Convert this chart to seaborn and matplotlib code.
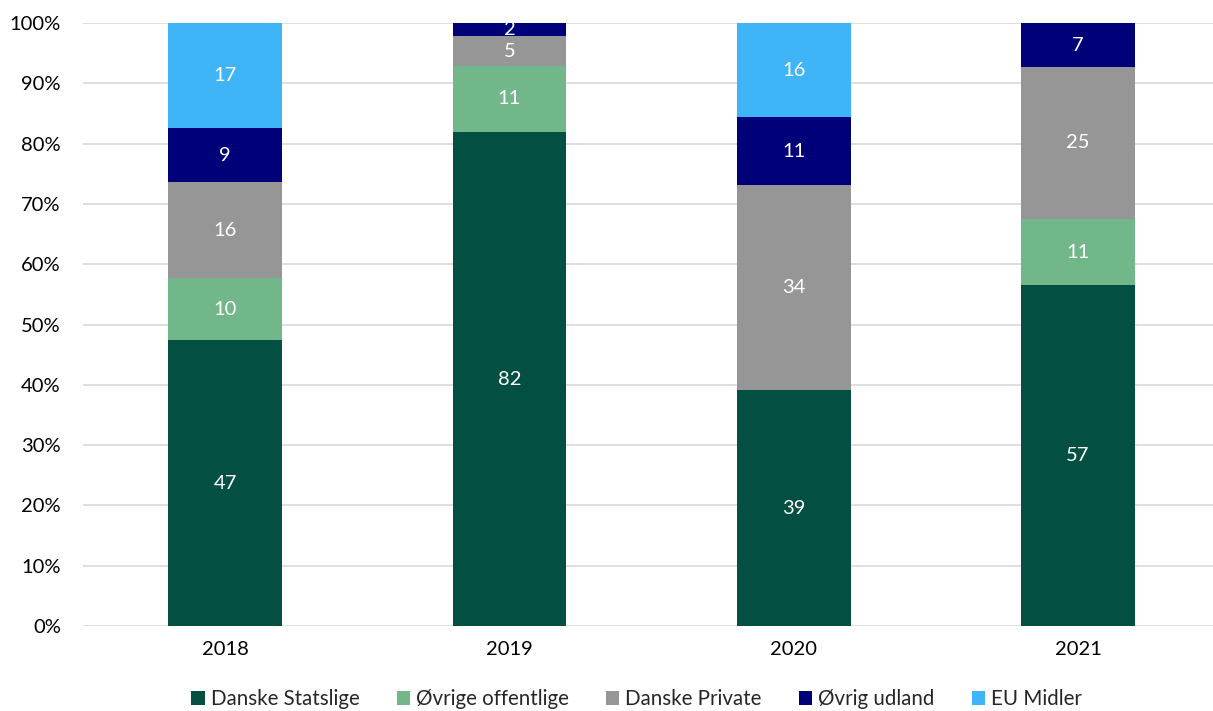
import pandas as pd
import matplotlib.pyplot as plt
import seaborn as sns

years = ['2018', '2019', '2020', '2021']
series = ['Danske Statslige', 'Øvrige offentlige', 'Danske Private', 'Øvrig udland', 'EU Midler']
danske_statslige = [47.4, 81.9, 39.1, 56.5]
ovrige_offentlige = [10.3, 11.0, 0.0, 11.0]
danske_private = [15.9, 4.9, 34.0, 25.2]
ovrig_udland = [9.0, 2.2, 11.3, 7.3]
eu_midler = [17.4, 0.0, 15.6, 0.0]
colors = ['#035043', '#72B78A', '#969696', '#000078', '#3FB4F6']

values = [danske_statslige, ovrige_offentlige, danske_private, ovrig_udland, eu_midler]

sns.set_theme(style='white')
plt.rcParams['font.family'] = ['Lato', 'DejaVu Sans']

fig = plt.figure(figsize=(12.13, 7.11), dpi=100)
ax = fig.add_axes([83 / 1213, 85 / 711, 1130 / 1213, 603 / 711])

bottom = [0.0] * len(years)
for name, vals, col in zip(series, values, colors):
    df = pd.DataFrame({'year': years, 'val': vals})
    sns.barplot(data=df, x='year', y='val', color=col, width=0.40,
                bottom=bottom, ax=ax, label=name, saturation=1,
                linewidth=0, edgecolor=col)
    for i, v in enumerate(vals):
        if v > 0:
            ax.text(i, bottom[i] + v / 2, f'{round(v + 0.001):d}', ha='center',
                    va='center', color='white', fontsize=14.5)
    bottom = [b + v for b, v in zip(bottom, vals)]

ax.set_xlim(-0.5, 3.475)
ax.set_ylim(0, 100)
ax.set_yticks(range(0, 101, 10))
ax.set_yticklabels([f'{t}%' for t in range(0, 101, 10)])
ax.yaxis.grid(True, color='#D9D9D9', linewidth=1.2)
ax.set_axisbelow(True)
for s in ax.spines.values():
    s.set_visible(False)
ax.tick_params(axis='both', length=0, labelsize=14.5, colors='black')
ax.tick_params(axis='x', pad=11)
ax.tick_params(axis='y', pad=16)
ax.set_xlabel('')
ax.set_ylabel('')

ax.legend(loc='center', bbox_to_anchor=(0.49, -0.121), ncol=5, frameon=False,
          fontsize=14.8, handlelength=0.65, handleheight=0.65, handletextpad=0.3,
          columnspacing=1.8)

fig.savefig('out.png', dpi=100)
